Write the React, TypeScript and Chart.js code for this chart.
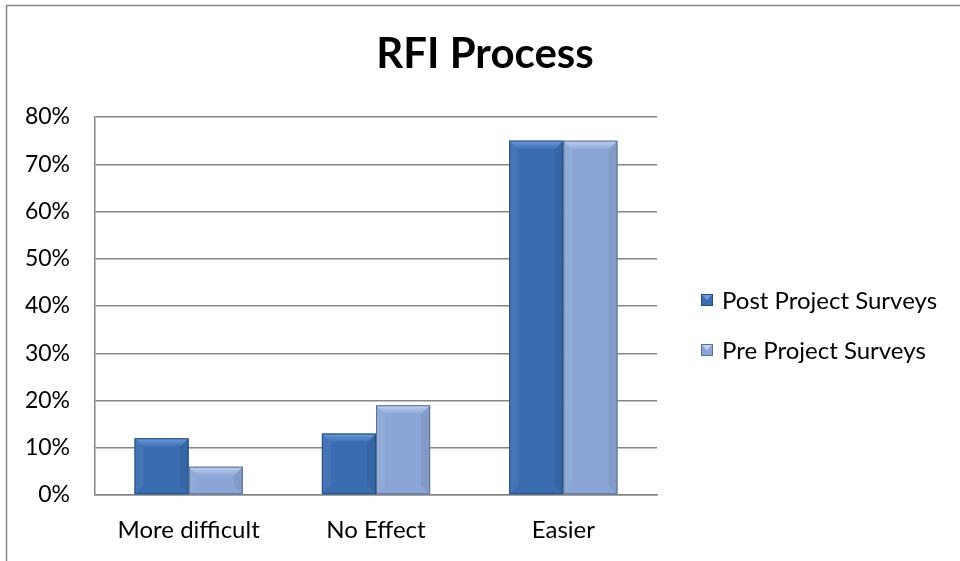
import React, { useEffect, useRef } from "react";
import { Chart, registerables } from "chart.js";

Chart.register(...registerables);

const chartTitle = "RFI Process";
const categories = ["More difficult", "No Effect", "Easier"];
const seriesNames = ["Post Project Surveys", "Pre Project Surveys"];
const postValues = [12, 13, 75];
const preValues = [6, 19, 75];
const yMax = 80;
const yStep = 10;

const FONT = "Lato, 'Open Sans', sans-serif";
const postColor = "#3A6DB0";
const postLight = "#6F9BDA";
const postEdge = "#24507F";
const preColor = "#8BA6D6";
const preLight = "#C0D2F0";
const preEdge = "#5B6F94";

const decorPlugin = {
  id: "decor",
  beforeDraw(chart: any) {
    const ctx = chart.ctx;
    ctx.save();
    ctx.fillStyle = "#ffffff";
    ctx.fillRect(0, 0, chart.width, chart.height);
    ctx.strokeStyle = "#868686";
    ctx.lineWidth = 1.5;
    ctx.beginPath();
    ctx.moveTo(6.5, chart.height + 2);
    ctx.lineTo(6.5, 5.5);
    ctx.lineTo(chart.width + 2, 5.5);
    ctx.stroke();
    ctx.restore();
  },
  afterDatasetsDraw(chart: any) {
    const ctx = chart.ctx;
    ctx.save();
    chart.data.datasets.forEach((ds: any, di: number) => {
      const meta = chart.getDatasetMeta(di);
      const light = di === 0 ? postLight : preLight;
      meta.data.forEach((bar: any) => {
        const p = bar.getProps(["x", "y", "base", "width"], true);
        const l = p.x - p.width / 2;
        const r = p.x + p.width / 2;
        const t = p.y;
        const b = p.base;
        const bev = Math.min(9, (b - t) / 2);
        const g = ctx.createLinearGradient(0, t, 0, t + bev);
        g.addColorStop(0, light);
        g.addColorStop(1, ds.backgroundColor);
        ctx.fillStyle = g;
        ctx.beginPath();
        ctx.moveTo(l, t);
        ctx.lineTo(r, t);
        ctx.lineTo(r - bev, t + bev);
        ctx.lineTo(l + bev, t + bev);
        ctx.closePath();
        ctx.fill();
        ctx.fillStyle = "rgba(0,0,0,0.07)";
        ctx.beginPath();
        ctx.moveTo(r, t);
        ctx.lineTo(r, b);
        ctx.lineTo(r - bev, b - bev);
        ctx.lineTo(r - bev, t + bev);
        ctx.closePath();
        ctx.fill();
        ctx.fillStyle = "rgba(255,255,255,0.06)";
        ctx.beginPath();
        ctx.moveTo(l, t);
        ctx.lineTo(l, b);
        ctx.lineTo(l + bev, b - bev);
        ctx.lineTo(l + bev, t + bev);
        ctx.closePath();
        ctx.fill();
        ctx.strokeStyle = ds.borderColor;
        ctx.lineWidth = 1;
        ctx.strokeRect(l + 0.5, t + 0.5, r - l - 1, b - t - 1);
      });
    });
    ctx.restore();
  },
  afterDraw(chart: any) {
    const ctx = chart.ctx;
    ctx.save();
    ctx.fillStyle = "#000000";
    ctx.font = `bold 42px ${FONT}`;
    ctx.textAlign = "center";
    ctx.textBaseline = "alphabetic";
    ctx.fillText(chartTitle, 485, 68);
    ctx.font = `24px ${FONT}`;
    ctx.textAlign = "left";
    ctx.textBaseline = "middle";
    const rows = [300, 350];
    chart.data.datasets.forEach((ds: any, i: number) => {
      const y = rows[i];
      const s = 12;
      const x0 = 701;
      ctx.fillStyle = ds.backgroundColor;
      ctx.fillRect(x0, y - s / 2, s, s);
      ctx.fillStyle = i === 0 ? postLight : preLight;
      ctx.beginPath();
      ctx.moveTo(x0, y - s / 2);
      ctx.lineTo(x0 + s, y - s / 2);
      ctx.lineTo(x0 + s / 2, y);
      ctx.closePath();
      ctx.fill();
      ctx.strokeStyle = ds.borderColor;
      ctx.lineWidth = 1;
      ctx.strokeRect(x0 + 0.5, y - s / 2 + 0.5, s - 1, s - 1);
      ctx.fillStyle = "#000000";
      ctx.fillText(ds.label, 722, y + 1);
    });
    ctx.restore();
  },
};

export default function App() {
  const ref = useRef<HTMLCanvasElement | null>(null);
  useEffect(() => {
    if (!ref.current) return;
    const chart = new Chart(ref.current, {
      type: "bar",
      data: {
        labels: categories,
        datasets: [
          {
            label: seriesNames[0],
            data: postValues,
            backgroundColor: postColor,
            borderColor: postEdge,
            borderWidth: 0,
          },
          {
            label: seriesNames[1],
            data: preValues,
            backgroundColor: preColor,
            borderColor: preEdge,
            borderWidth: 0,
          },
        ],
      },
      options: {
        animation: false,
        responsive: false,
        maintainAspectRatio: false,
        devicePixelRatio: 1,
        layout: { padding: { top: 117, right: 303, left: 0, bottom: 0 } },
        datasets: { bar: { categoryPercentage: 0.578, barPercentage: 1 } },
        plugins: {
          legend: { display: false },
          title: { display: false },
          tooltip: { enabled: false },
        },
        scales: {
          x: {
            grid: { display: false, drawTicks: false },
            border: { display: true, color: "#868686", width: 1.5 },
            ticks: {
              color: "#000000",
              font: { family: FONT, size: 24 },
              padding: 21,
            },
            afterFit: (s: any) => {
              s.height = 66;
            },
          },
          y: {
            min: 0,
            max: yMax,
            grid: { color: "#868686", lineWidth: 1.5, drawTicks: false },
            border: { display: true, color: "#868686", width: 1.5 },
            ticks: {
              stepSize: yStep,
              color: "#000000",
              font: { family: FONT, size: 23 },
              padding: 25,
              callback: (v: any) => `${v}%`,
            },
            afterFit: (s: any) => {
              s.width = 95;
            },
          },
        },
      },
      plugins: [decorPlugin],
    });
    return () => chart.destroy();
  }, []);
  return (
    <div style={{ position: "absolute", left: 0, top: 0, width: 960, height: 561 }}>
      <canvas ref={ref} width={960} height={561} style={{ width: 960, height: 561 }} />
    </div>
  );
}
